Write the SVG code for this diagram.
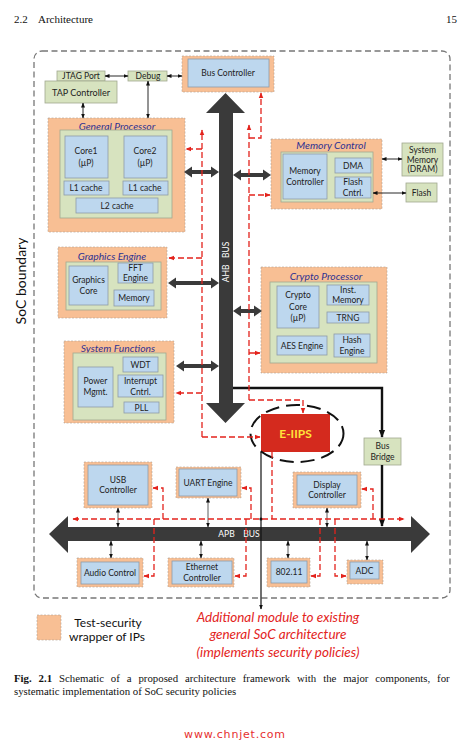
<svg xmlns="http://www.w3.org/2000/svg" width="469" height="746" viewBox="0 0 469 746">
<style>
.t{font-family:Lato,"Open Sans","Liberation Sans",sans-serif;font-size:8.5px;fill:#222;text-anchor:middle;dominant-baseline:central}
.ti{font-family:Lato,"Open Sans","Liberation Sans",sans-serif;font-size:10.3px;font-style:italic;fill:#2e3192;text-anchor:middle;dominant-baseline:central}
.w{fill:#f8bf94;stroke:#b0a090;stroke-width:0.6;stroke-dasharray:2,1.5}
.g{fill:#d7e3bf;stroke:#a0a890;stroke-width:0.8}
.b{fill:#bdd7ee;stroke:#8e9ba8;stroke-width:0.8}
.bus{fill:#3a3a3a}
.rd{fill:none;stroke:#e3231c;stroke-width:1.3;stroke-dasharray:6,3}
.k{fill:none;stroke:#111;stroke-width:0.9}
.kg{fill:none;stroke:#333;stroke-width:0.8}
.serif{font-family:"Liberation Serif",serif;fill:#111}
</style>
<defs>
<marker id="ah" viewBox="0 0 10 10" refX="9" refY="5" markerWidth="5" markerHeight="5" markerUnits="userSpaceOnUse" orient="auto-start-reverse"><path d="M0,1 L10,5 L0,9 z" fill="#111"/></marker>
<marker id="ar" viewBox="0 0 10 10" refX="9" refY="5" markerWidth="6" markerHeight="6" markerUnits="userSpaceOnUse" orient="auto-start-reverse"><path d="M0,1 L10,5 L0,9 z" fill="#e3231c"/></marker>
<marker id="ak" viewBox="0 0 10 10" refX="9" refY="5" markerWidth="8" markerHeight="8" markerUnits="userSpaceOnUse" orient="auto"><path d="M0,1 L10,5 L0,9 z" fill="#111"/></marker>
</defs>
<rect width="469" height="746" fill="#fff"/>
<text class="serif" x="14" y="23" font-size="11">2.2</text>
<text class="serif" x="38" y="23" font-size="11">Architecture</text>
<text class="serif" x="457" y="23" font-size="11" text-anchor="end">15</text>

<rect x="34" y="51" width="416" height="547" rx="8" fill="none" stroke="#777" stroke-width="1.3" stroke-dasharray="6,3.5"/>
<text x="20" y="281" transform="rotate(-90 20 281)" style="font-family:Lato,'Open Sans',sans-serif;font-size:14px;fill:#111;text-anchor:middle;dominant-baseline:central">SoC boundary</text>

<!-- buses -->
<g id="ahb-bus">
<polygon class="bus" points="225.5,93 245,113 233,113 233,403 245,403 225.5,423 206,403 219,403 219,113 206,113"/>
<text x="226" y="262" transform="rotate(-90 226 262)" xml:space="preserve" style="font-family:Lato,'Open Sans',sans-serif;font-size:8.5px;fill:#fff;text-anchor:middle;dominant-baseline:central;white-space:pre">AHB   BUS</text>
</g>
<g id="apb-bus">
<polygon class="bus" points="49,534 68,516 68,527 411,527 411,516 430,534 411,553 411,541 68,541 68,553"/>
<text x="239" y="534" xml:space="preserve" style="font-family:Lato,'Open Sans',sans-serif;font-size:8.5px;fill:#fff;text-anchor:middle;dominant-baseline:central;white-space:pre">APB    BUS</text>
</g>

<!-- nodes -->
<g id="bus-controller"><rect class="w" x="182" y="56" width="92" height="36"/><rect class="b" x="188" y="59" width="81" height="28"/><text class="t" x="228" y="73" font-size="8.5">Bus Controller</text></g>
<g id="jtag-port"><rect class="g" x="57" y="71" width="48" height="10"/><text class="t" x="81" y="76">JTAG Port</text></g>
<g id="tap-controller"><rect class="g" x="45" y="81" width="72" height="22"/><text class="t" x="81" y="92" style="font-size:9px">TAP Controller</text></g>
<g id="debug"><rect class="g" x="128" y="71" width="39" height="10"/><text class="t" x="148" y="76">Debug</text></g>

<g id="general-processor">
<rect class="w" x="48" y="118" width="137" height="114"/>
<text class="ti" x="117" y="126">General Processor</text>
<rect class="g" x="60" y="130" width="112" height="88"/>
<rect class="b" x="65" y="136" width="43" height="42"/><text class="t" x="86" y="151">Core1</text><text class="t" x="86" y="163">(µP)</text>
<rect class="b" x="124" y="136" width="43" height="42"/><text class="t" x="145" y="151">Core2</text><text class="t" x="145" y="163">(µP)</text>
<rect class="b" x="64" y="181" width="45" height="14"/><text class="t" x="86" y="188">L1 cache</text>
<rect class="b" x="123" y="181" width="45" height="14"/><text class="t" x="145" y="188">L1 cache</text>
<rect class="b" x="76" y="198" width="82" height="15"/><text class="t" x="117" y="205.5">L2 cache</text>
</g>

<g id="memory-control">
<rect class="w" x="271" y="139" width="111" height="70"/>
<text class="ti" x="331" y="145">Memory Control</text>
<rect class="g" x="281" y="152" width="92" height="50"/>
<rect class="b" x="283" y="154" width="44" height="45"/><text class="t" x="305" y="171">Memory</text><text class="t" x="305" y="182">Controller</text>
<rect class="b" x="335" y="158" width="36" height="15"/><text class="t" x="353" y="165.5">DMA</text>
<rect class="b" x="335" y="177" width="36" height="21"/><text class="t" x="353" y="182">Flash</text><text class="t" x="353" y="193">Cntrl.</text>
</g>
<g id="system-memory"><rect class="g" x="402" y="143" width="41" height="33"/><text class="t" x="422.5" y="150" font-size="8">System</text><text class="t" x="422.5" y="159.5" font-size="8">Memory</text><text class="t" x="422.5" y="169" font-size="8">(DRAM)</text></g>
<g id="flash"><rect class="g" x="406" y="183" width="31" height="19"/><text class="t" x="421.5" y="192.5">Flash</text></g>

<g id="graphics-engine">
<rect class="w" x="58" y="247" width="109" height="71"/>
<text class="ti" x="112" y="256">Graphics Engine</text>
<rect class="g" x="66" y="262" width="95" height="48"/>
<rect class="b" x="69" y="266" width="39" height="39"/><text class="t" x="88.5" y="280">Graphics</text><text class="t" x="88.5" y="291">Core</text>
<rect class="b" x="118" y="263" width="35" height="20"/><text class="t" x="135.5" y="268">FFT</text><text class="t" x="135.5" y="278">Engine</text>
<rect class="b" x="114" y="290" width="40" height="16"/><text class="t" x="134" y="298">Memory</text>
</g>

<g id="system-functions">
<rect class="w" x="64" y="341" width="110" height="82"/>
<text class="ti" x="118" y="348">System Functions</text>
<rect class="g" x="73" y="353" width="93" height="67"/>
<rect class="b" x="78" y="367" width="35" height="40"/><text class="t" x="95.5" y="381">Power</text><text class="t" x="95.5" y="392">Mgmt.</text>
<rect class="b" x="123" y="357" width="35" height="15"/><text class="t" x="140.5" y="364.5">WDT</text>
<rect class="b" x="118" y="375" width="45" height="22"/><text class="t" x="140.5" y="381">Interrupt</text><text class="t" x="140.5" y="391.5">Cntrl.</text>
<rect class="b" x="124" y="402" width="35" height="11"/><text class="t" x="141.5" y="407.5">PLL</text>
</g>

<g id="crypto-processor">
<rect class="w" x="261" y="267" width="126" height="106"/>
<text class="ti" x="326" y="276">Crypto Processor</text>
<rect class="g" x="270" y="282" width="107" height="81"/>
<rect class="b" x="277" y="286" width="42" height="42"/><text class="t" x="298" y="295">Crypto</text><text class="t" x="298" y="306.5">Core</text><text class="t" x="298" y="318">(µP)</text>
<rect class="b" x="327" y="285" width="42" height="20"/><text class="t" x="348" y="290">Inst.</text><text class="t" x="348" y="300">Memory</text>
<rect class="b" x="327" y="312" width="42" height="11"/><text class="t" x="348" y="317.5">TRNG</text>
<rect class="b" x="277" y="336" width="50" height="19"/><text class="t" x="302" y="345.5">AES Engine</text>
<rect class="b" x="334" y="334" width="36" height="23"/><text class="t" x="352" y="340">Hash</text><text class="t" x="352" y="350.5">Engine</text>
</g>

<g id="e-iips">
<rect x="261" y="414" width="69" height="38" fill="#d42a1e"/>
<text x="295.5" y="433" style="font-family:Lato,'Open Sans',sans-serif;font-size:12px;font-weight:bold;fill:#ffe23a;text-anchor:middle;dominant-baseline:central">E-IIPS</text>
<ellipse cx="297" cy="433.5" rx="46.5" ry="28.5" fill="none" stroke="#111" stroke-width="2" stroke-dasharray="14,7"/>
</g>

<g id="bus-bridge"><rect class="g" x="364" y="438" width="37" height="27"/><text class="t" x="382.5" y="446" font-size="9">Bus</text><text class="t" x="382.5" y="457" font-size="9">Bridge</text></g>

<g id="usb-controller"><rect class="w" x="84" y="462" width="68" height="46"/><rect class="b" x="88" y="465" width="60" height="40"/><text class="t" x="118" y="480">USB</text><text class="t" x="118" y="490">Controller</text></g>
<g id="uart-engine"><rect class="w" x="176" y="467" width="65" height="31"/><rect class="b" x="179" y="469" width="58" height="27"/><text class="t" x="208" y="482.5">UART Engine</text></g>
<g id="display-controller"><rect class="w" x="293" y="472" width="68" height="36"/><rect class="b" x="297" y="475" width="60" height="30"/><text class="t" x="327" y="485">Display</text><text class="t" x="327" y="495">Controller</text></g>
<g id="audio-control"><rect class="w" x="77" y="558" width="66" height="29"/><rect class="b" x="81" y="562" width="58" height="22"/><text class="t" x="110" y="573">Audio Control</text></g>
<g id="ethernet-controller"><rect class="w" x="168" y="558" width="66" height="29"/><rect class="b" x="172" y="561" width="60" height="23"/><text class="t" x="202" y="567">Ethernet</text><text class="t" x="202" y="577.5">Controller</text></g>
<g id="wifi-802-11"><rect class="w" x="267" y="558" width="43" height="29"/><rect class="b" x="271" y="561" width="36" height="22"/><text class="t" x="289" y="572">802.11</text></g>
<g id="adc"><rect class="w" x="347" y="560" width="36" height="24"/><rect class="b" x="350" y="562" width="29" height="17"/><text class="t" x="364.5" y="570.5">ADC</text></g>

<!-- connectors -->
<g id="connectors">
<polygon class="bus" points="184,172 192,166.5 192,170 211,170 211,166.5 219,172 211,177.5 211,174 192,174 192,177.5"/>
<polygon class="bus" points="233,175 241,169.5 241,173 263,173 263,169.5 271,175 263,180.5 263,177 241,177 241,180.5"/>
<polygon class="bus" points="168,283 176,277.5 176,281 211,281 211,277.5 219,283 211,288.5 211,285 176,285 176,288.5"/>
<polygon class="bus" points="176,366 184,360.5 184,364 211,364 211,360.5 219,366 211,371.5 211,368 184,368 184,371.5"/>
<polygon class="bus" points="233,311 241,305.5 241,309 254,309 254,305.5 262,311 254,316.5 254,313 241,313 241,316.5"/>

<line class="k" x1="105" y1="76" x2="128" y2="76" marker-start="url(#ah)" marker-end="url(#ah)"/>
<line class="k" x1="167" y1="76" x2="182" y2="76" marker-start="url(#ah)" marker-end="url(#ah)"/>
<line class="k" x1="148" y1="81" x2="148" y2="118" marker-start="url(#ah)" marker-end="url(#ah)"/>
<line class="k" x1="83" y1="103" x2="83" y2="118" marker-start="url(#ah)" marker-end="url(#ah)"/>
<line class="k" x1="382" y1="159" x2="402" y2="159" marker-start="url(#ah)" marker-end="url(#ah)"/>
<line class="k" x1="373" y1="193" x2="406" y2="193" marker-start="url(#ah)" marker-end="url(#ah)"/>

<line class="kg" x1="118" y1="508" x2="118" y2="527" marker-start="url(#ah)" marker-end="url(#ah)"/>
<line class="kg" x1="208" y1="498" x2="208" y2="527" marker-start="url(#ah)" marker-end="url(#ah)"/>
<line class="kg" x1="327" y1="508" x2="327" y2="527" marker-start="url(#ah)" marker-end="url(#ah)"/>
<line class="kg" x1="111" y1="541" x2="111" y2="558" marker-start="url(#ah)" marker-end="url(#ah)"/>
<line class="kg" x1="201" y1="541" x2="201" y2="558" marker-start="url(#ah)" marker-end="url(#ah)"/>
<line class="kg" x1="288" y1="541" x2="288" y2="558" marker-start="url(#ah)" marker-end="url(#ah)"/>
<line class="kg" x1="367" y1="541" x2="367" y2="560" marker-start="url(#ah)" marker-end="url(#ah)"/>

<path d="M233,388 H382 V437" fill="none" stroke="#111" stroke-width="2.4" marker-end="url(#ak)"/>
<path d="M382,465 V526" fill="none" stroke="#111" stroke-width="2.4" marker-end="url(#ak)"/>
<path d="M261,452 V609" fill="none" stroke="#111" stroke-width="1.2" marker-end="url(#ah)"/>
<circle cx="261" cy="519" r="1.6" fill="#111"/>

<path class="rd" d="M202,437 V130" marker-end="url(#ar)"/>
<path class="rd" d="M202,149 H186" marker-end="url(#ar)"/>
<path class="rd" d="M202,258 H169" marker-end="url(#ar)"/>
<path class="rd" d="M202,393 H176" marker-end="url(#ar)"/>
<path class="rd" d="M202,437 H260" marker-end="url(#ar)"/>

<path class="rd" d="M249,400 V125" marker-end="url(#ar)"/>
<path class="rd" d="M249,138 H261 V93" marker-end="url(#ar)"/>
<path class="rd" d="M249,195 H270" marker-end="url(#ar)"/>
<path class="rd" d="M249,353 H260" marker-end="url(#ar)"/>
<path class="rd" d="M249,400 H303 V413" marker-end="url(#ar)"/>

<path class="rd" d="M272,452 V519"/>
<path class="rd" d="M73,519 H404" marker-start="url(#ar)" marker-end="url(#ar)"/>
<path class="rd" d="M163,519 V488 H153" marker-end="url(#ar)"/>
<path class="rd" d="M154,519 V576 H144" marker-end="url(#ar)"/>
<path class="rd" d="M251,519 V488 H242" marker-end="url(#ar)"/>
<path class="rd" d="M246,519 V576 H235" marker-end="url(#ar)"/>
<path class="rd" d="M373,519 V489 H362" marker-end="url(#ar)"/>
<path class="rd" d="M320,519 V576 H311" marker-end="url(#ar)"/>
<path class="rd" d="M335,519 V576 H346" marker-end="url(#ar)"/>
</g>

<!-- legend -->
<g id="legend">
<rect x="37" y="615" width="24" height="25" fill="#f8bf94" stroke="#b0a090" stroke-width="0.6" stroke-dasharray="2,1.5"/>
<text x="108" y="622" style="font-family:Lato,'Open Sans',sans-serif;font-size:12px;fill:#111;text-anchor:middle;dominant-baseline:central">Test-security</text>
<text x="107" y="636" style="font-family:Lato,'Open Sans',sans-serif;font-size:12px;fill:#111;text-anchor:middle;dominant-baseline:central">wrapper of IPs</text>
</g>
<g id="note" style="font-family:Lato,'Open Sans',sans-serif;font-size:13.5px;font-style:italic;fill:#e3231c;text-anchor:middle;dominant-baseline:central">
<text x="278" y="617">Additional module to existing</text>
<text x="278" y="634">general SoC architecture</text>
<text x="278" y="652">(implements security policies)</text>
</g>

<text class="serif" x="14" y="682" font-size="10.8" word-spacing="4.2"><tspan font-weight="bold">Fig. 2.1</tspan> Schematic of a proposed architecture framework with the major components, for</text>
<text class="serif" x="14" y="695" font-size="10.8">systematic implementation of SoC security policies</text>

<text x="235" y="734" style="font-family:'DejaVu Sans','Liberation Sans',sans-serif;font-size:11px;fill:#e62e2e;text-anchor:middle;dominant-baseline:central;letter-spacing:0.8px">www.chnjet.com</text>
</svg>
